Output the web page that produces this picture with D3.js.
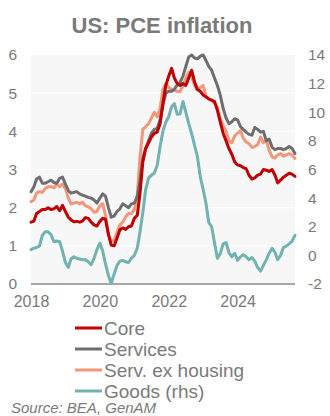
<!DOCTYPE html>
<html>
<head>
<meta charset="utf-8">
<script src="https://cdn.jsdelivr.net/npm/d3@7"></script>
<style>
  html, body { margin: 0; padding: 0; background: #fff; }
  svg { display: block; font-family: "Liberation Sans", Arial, sans-serif; }
</style>
</head>
<body>
<svg id="chart" width="330" height="416"></svg>
<script>
// Monthly year-on-year rates, Jan 2018 onwards (%)
const startMonth = new Date(2018, 0, 1);

const core = [
  1.62, 1.65, 1.85, 1.90, 1.95, 1.95, 2.00, 1.95, 1.97, 2.03, 1.92, 2.06,
  1.90, 1.75, 1.68, 1.63, 1.64, 1.62, 1.65, 1.74, 1.72, 1.62, 1.55, 1.52,
  1.64, 1.72, 1.70, 1.30, 1.02, 1.00, 1.20, 1.42, 1.47, 1.43, 1.50, 1.52,
  1.72, 1.80, 2.35, 3.20, 3.55, 3.70, 3.85, 3.95, 3.98, 4.20, 4.75, 5.20,
  5.45, 5.65, 5.40, 5.25, 5.20, 5.25, 5.20, 5.40, 5.60, 5.30, 5.10, 5.05,
  4.95, 4.90, 4.85, 4.82, 4.78, 4.55, 4.25, 3.95, 3.75, 3.55, 3.40, 3.20,
  3.12, 3.10, 3.05, 3.02, 2.85, 2.75, 2.78, 2.85, 2.88, 3.00, 2.98, 2.95,
  3.00, 2.85, 2.65, 2.72, 2.80, 2.85, 2.90, 2.88, 2.82
];

const services = [
  2.42, 2.55, 2.75, 2.80, 2.64, 2.64, 2.68, 2.72, 2.66, 2.64, 2.77, 2.80,
  2.62, 2.45, 2.38, 2.40, 2.42, 2.36, 2.33, 2.30, 2.27, 2.25, 2.20, 2.12,
  2.25, 2.36, 2.30, 2.00, 1.75, 1.78, 1.90, 1.97, 2.10, 2.05, 2.00, 2.10,
  2.12, 2.30, 2.70, 3.30, 3.55, 3.75, 3.95, 4.05, 4.08, 4.30, 4.70, 5.00,
  5.05, 5.05, 5.10, 5.22, 5.28, 5.45, 5.70, 5.95, 6.00, 5.92, 5.90, 5.97,
  6.00, 5.85, 5.70, 5.60, 5.40, 5.20, 4.95, 4.60, 4.35, 4.20, 4.25, 4.33,
  4.30, 4.12, 4.05, 3.98, 3.92, 3.90, 4.10, 4.05, 3.98, 4.00, 3.75, 3.80,
  3.58, 3.52, 3.55, 3.55, 3.52, 3.55, 3.60, 3.55, 3.42
];

const servExHousing = [
  2.16, 2.20, 2.38, 2.42, 2.40, 2.50, 2.55, 2.55, 2.52, 2.62, 2.55, 2.62,
  2.50, 2.25, 2.10, 2.12, 2.14, 2.10, 2.14, 2.05, 2.02, 1.97, 1.88, 1.90,
  2.05, 2.10, 1.80, 1.30, 1.12, 1.15, 1.35, 1.55, 1.62, 1.76, 1.85, 1.85,
  1.95, 2.30, 3.30, 4.05, 4.12, 4.20, 4.35, 4.50, 4.38, 4.60, 5.10, 5.25,
  5.15, 5.10, 5.08, 5.05, 5.04, 5.20, 5.40, 5.55, 5.45, 5.20, 5.08, 5.15,
  5.20, 4.92, 4.85, 4.80, 4.75, 4.62, 4.35, 4.15, 4.00, 3.75, 3.70, 3.88,
  3.95, 4.02, 3.82, 3.72, 3.68, 3.58, 3.60, 3.65, 3.85, 3.70, 3.77, 3.50,
  3.33, 3.30, 3.38, 3.42, 3.35, 3.38, 3.42, 3.38, 3.29
];

const goods = [
  0.40, 0.50, 0.55, 0.65, 1.40, 1.65, 1.65, 1.45, 0.95, 1.00, 0.95, 0.30,
  -0.50, -0.85, -0.25, -0.10, -0.20, -0.25, -0.30, -0.30, -0.45, -0.65, -0.20, 0.40,
  0.85, 0.30, -0.60, -1.40, -1.95, -1.30, -0.70, -0.40, -0.35, -0.45, -0.50, -0.20,
  0.00, 0.50, 1.60, 3.00, 4.60, 5.40, 5.60, 5.75, 6.30, 7.60, 8.70, 9.30,
  9.70, 10.40, 10.60, 9.85, 9.90, 10.75, 10.00, 9.20, 8.50, 7.70, 6.90, 5.50,
  4.60, 3.60, 2.30, 2.00, 0.90, -0.20, 0.10, 0.80, 0.90, 0.20, -0.10, 0.15,
  -0.35, -0.10, 0.05, -0.10, -0.30, -0.15, -0.40, -0.85, -1.10, -0.70, -0.30, 0.15,
  0.50, 0.20, -0.30, 0.00, 0.55, 0.65, 0.80, 1.00, 1.40
];

const leftTicks = [0, 1, 2, 3, 4, 5, 6];
const rightTicks = [-2, 0, 2, 4, 6, 8, 10, 12, 14];
const yearTicks = [2018, 2020, 2022, 2024];

const seriesNames = ["Core", "Services", "Serv. ex housing", "Goods (rhs)"];
const seriesColors = ["#c00000", "#6e6e6e", "#f4967a", "#70b3b1"];

const svg = d3.select("#chart");
const plot = { left: 31, right: 295, top: 55, bottom: 284 };
const textGray = "#7a7a7a";
const tickFont = "Liberation Sans, Arial, sans-serif";

const dates = core.map((_, i) => d3.timeMonth.offset(startMonth, i));

const x = d3.scaleTime()
  .domain([dates[0], dates[dates.length - 1]])
  .range([plot.left, plot.right]);
const yL = d3.scaleLinear().domain([0, 6]).range([plot.bottom, plot.top]);
const yR = d3.scaleLinear().domain([-2, 14]).range([plot.bottom, plot.top]);

// Plain hyphen for negative numbers
const plainNum = d => String(d);

// Title
svg.append("text")
  .attr("x", 162).attr("y", 33)
  .attr("text-anchor", "middle")
  .attr("font-size", 22).attr("font-weight", "bold")
  .attr("fill", textGray)
  .text("US: PCE inflation");

// Plot background
svg.append("rect")
  .attr("x", plot.left).attr("y", plot.top)
  .attr("width", plot.right - plot.left).attr("height", plot.bottom - plot.top)
  .attr("fill", "#f7f7f7");

// Horizontal gridlines on the left-axis ticks
svg.append("g").selectAll("line")
  .data(leftTicks.filter(d => d > 0 && d < 6))
  .join("line")
  .attr("x1", plot.left).attr("x2", plot.right)
  .attr("y1", d => yL(d)).attr("y2", d => yL(d))
  .attr("stroke", "#ffffff").attr("stroke-width", 1.2);

// Left axis
const axL = svg.append("g")
  .attr("transform", `translate(${plot.left},0)`)
  .call(d3.axisLeft(yL).tickValues(leftTicks).tickSize(0).tickPadding(14).tickFormat(plainNum));
axL.select(".domain").remove();
axL.selectAll("text").attr("font-size", 15.5).attr("fill", textGray).attr("font-family", tickFont);

// Right axis
const axR = svg.append("g")
  .attr("transform", `translate(${plot.right},0)`)
  .call(d3.axisRight(yR).tickValues(rightTicks).tickSize(0).tickPadding(13).tickFormat(plainNum));
axR.select(".domain").remove();
axR.selectAll("text").attr("font-size", 15.5).attr("fill", textGray).attr("font-family", tickFont);

// Bottom axis
const axB = svg.append("g")
  .attr("transform", `translate(0,${plot.bottom})`)
  .call(d3.axisBottom(x)
    .tickValues(yearTicks.map(yr => new Date(yr, 0, 1)))
    .tickSize(0).tickPadding(12)
    .tickFormat(d3.timeFormat("%Y")));
axB.select(".domain").remove();
axB.selectAll("text").attr("font-size", 16).attr("fill", textGray).attr("font-family", tickFont);

svg.append("line")
  .attr("x1", plot.left).attr("x2", plot.right)
  .attr("y1", plot.bottom).attr("y2", plot.bottom)
  .attr("stroke", "#a6a6a6").attr("stroke-width", 2);

// Series lines
const lineL = d3.line().x((d, i) => x(dates[i])).y(d => yL(d));
const lineR = d3.line().x((d, i) => x(dates[i])).y(d => yR(d));

const drawOrder = [
  { data: goods, gen: lineR, color: seriesColors[3] },
  { data: servExHousing, gen: lineL, color: seriesColors[2] },
  { data: services, gen: lineL, color: seriesColors[1] },
  { data: core, gen: lineL, color: seriesColors[0] }
];
svg.append("g").selectAll("path")
  .data(drawOrder)
  .join("path")
  .attr("d", s => s.gen(s.data))
  .attr("fill", "none")
  .attr("stroke", s => s.color)
  .attr("stroke-width", 3)
  .attr("stroke-linejoin", "round")
  .attr("stroke-linecap", "round");

// Legend
const legend = svg.append("g");
const legendY0 = 328, legendStep = 21;
seriesNames.forEach((name, i) => {
  const yy = legendY0 + i * legendStep;
  legend.append("line")
    .attr("x1", 75).attr("x2", 102)
    .attr("y1", yy).attr("y2", yy)
    .attr("stroke", seriesColors[i]).attr("stroke-width", 3);
  legend.append("text")
    .attr("x", 104).attr("y", yy + 7)
    .attr("font-size", 19).attr("fill", textGray)
    .text(name);
});

// Source note
svg.append("text")
  .attr("x", 11).attr("y", 413)
  .attr("font-size", 15).attr("font-style", "italic")
  .attr("fill", textGray)
  .text("Source: BEA, GenAM");
</script>
</body>
</html>
